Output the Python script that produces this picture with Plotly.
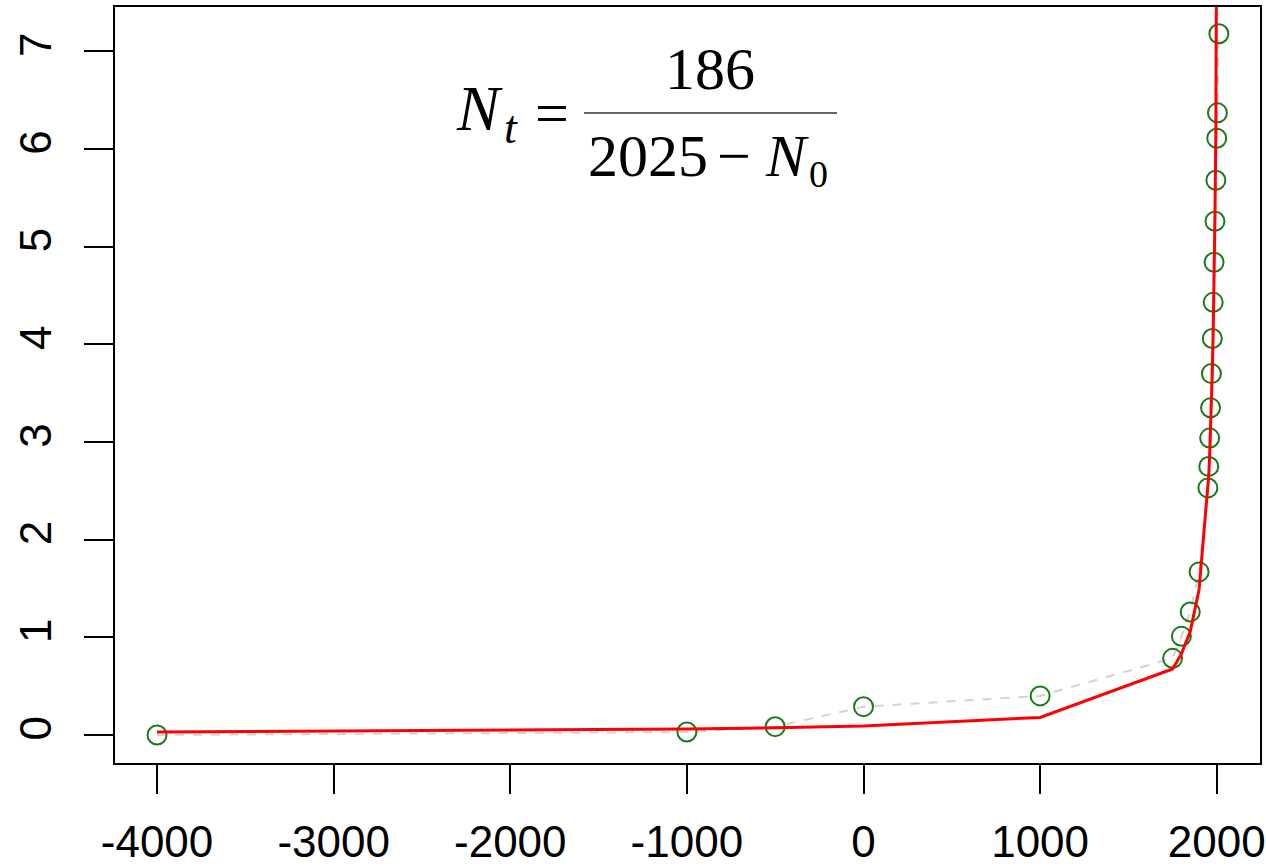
import plotly.graph_objects as go

# observed data (year, world population in billions)
obs_years = [-4000, -1000, -500, 0, 1000, 1750, 1800, 1850, 1900,
             1950, 1955, 1960, 1965, 1970, 1975, 1980, 1985, 1990, 1995, 2000, 2004, 2012]
obs_pop = [0.00, 0.03, 0.085, 0.29, 0.40, 0.785, 1.01, 1.26, 1.67,
           2.53, 2.75, 3.04, 3.35, 3.70, 4.06, 4.43, 4.84, 5.26, 5.68, 6.11, 6.37, 7.18]

# model curve values
model_years = [-4000, -1000, -500, 0, 1000, 1750, 1800, 1850, 1900,
               1950, 1955, 1960, 1965, 1970, 1975, 1980, 1985, 1990, 1995, 2000, 2004, 2012]
model_pop = [0.031, 0.061, 0.074, 0.092, 0.18, 0.676, 0.83, 1.06, 1.49,
             2.48, 2.66, 2.86, 3.10, 3.38, 3.72, 4.13, 4.65, 5.31, 6.20, 7.44, 8.86, 14.3]

x_tickvals = [-4000, -3000, -2000, -1000, 0, 1000, 2000]
x_ticktext = ["-4000", "-3000", "-2000", "-1000", "0", "1000", "2000"]
y_tickvals = [0, 1, 2, 3, 4, 5, 6, 7]
y_ticktext = ["0", "1", "2", "3", "4", "5", "6", "7"]

W, H = 1266, 867
L, R, T, B = 115, 6, 7, 104
PW, PH = W - L - R, H - T - B

def px(x):
    return (x - L) / PW

def py(y):
    return (H - B - y) / PH

AX_FONT = dict(family="Liberation Sans, Arial", size=44, color="black")

fig = go.Figure()
fig.add_trace(go.Scatter(x=obs_years, y=obs_pop, mode="lines",
                         line=dict(color="#d3d3d3", width=2, dash="dash"),
                         showlegend=False, hoverinfo="skip"))
fig.add_trace(go.Scatter(x=obs_years, y=obs_pop, mode="markers",
                         marker=dict(symbol="circle-open", size=19, color="#1a7a1a",
                                     line=dict(width=2, color="#1a7a1a")),
                         showlegend=False, cliponaxis=True))
fig.add_trace(go.Scatter(x=model_years, y=model_pop, mode="lines",
                         line=dict(color="#ff0000", width=3),
                         showlegend=False))

fig.update_xaxes(range=[-4238, 2245], tickmode="array", tickvals=x_tickvals, ticktext=x_ticktext,
                 showgrid=False, zeroline=False, showline=True, mirror=True, automargin=False,
                 linecolor="black", linewidth=2, ticks="outside", ticklen=29, tickwidth=2,
                 tickcolor="black", tickfont=AX_FONT, ticklabelstandoff=10,
                 ticklabeloverflow="allow")
fig.update_yaxes(range=[-0.287, 7.454], tickmode="array", tickvals=y_tickvals, ticktext=y_ticktext,
                 showgrid=False, zeroline=False, showline=True, mirror=True, automargin=False,
                 linecolor="black", linewidth=2, ticks="outside", ticklen=29, tickwidth=2,
                 tickcolor="black", tickfont=AX_FONT, tickangle=-90, ticklabelstandoff=15,
                 ticklabeloverflow="allow")

SERIF = "Liberation Serif, Times New Roman, serif"
ann = []
def add(text, x, y, size):
    ann.append(dict(text=text, x=px(x), y=py(y), xref="paper", yref="paper",
                    xanchor="center", yanchor="middle", showarrow=False,
                    font=dict(family=SERIF, size=size, color="black")))

add("<i>N</i>", 479, 108, 64)
add("<i>t</i>", 511, 128, 46)
add("=", 552, 113, 60)
add("186", 710, 69, 60)
add("2025", 648, 156, 60)
add("\u2212", 734, 156, 60)
add("<i>N</i>", 787, 156, 60)
add("0", 818, 174, 38)

fig.add_shape(type="line", xref="paper", yref="paper",
              x0=px(584), x1=px(837), y0=py(113), y1=py(113),
              line=dict(color="#333333", width=1.5))

fig.update_layout(width=W, height=H, margin=dict(l=L, r=R, t=T, b=B),
                  plot_bgcolor="white", paper_bgcolor="white",
                  annotations=ann, showlegend=False)

fig.write_html("out.html", config={"displayModeBar": False},
               post_script="document.body.style.margin='0';document.body.style.overflow='hidden';")
